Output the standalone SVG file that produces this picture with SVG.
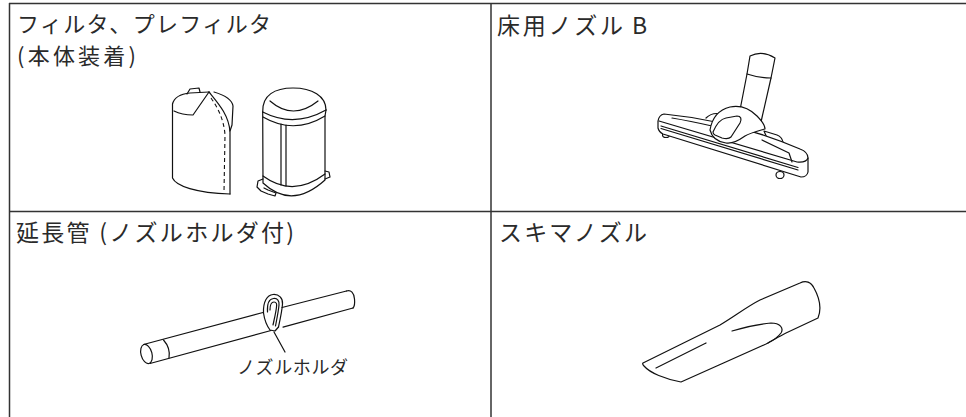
<svg xmlns="http://www.w3.org/2000/svg" width="966" height="417" viewBox="0 0 966 417">
<style>
.grid{stroke:#333;stroke-width:1.5;fill:none}
.ln{stroke:#111;stroke-width:1.2;fill:none;stroke-linecap:round;stroke-linejoin:round}
.fw{stroke:#111;stroke-width:1.2;fill:#fff;stroke-linejoin:round}
.dash{stroke:#111;stroke-width:1.1;fill:none;stroke-dasharray:4 3}
.t{font-family:"Noto Sans CJK JP","Noto Sans",sans-serif;font-size:23px;fill:#2a2a2a}
.t2{font-family:"Noto Sans CJK JP","Noto Sans",sans-serif;font-size:22px;fill:#2a2a2a}
.s{font-family:"Noto Sans CJK JP","Noto Sans",sans-serif;font-size:18px;fill:#2a2a2a}
</style>
<rect width="966" height="417" fill="#fff"/>
<g id="grid">
<line class="grid" x1="9" y1="3.5" x2="966" y2="3.5"/>
<line class="grid" x1="9.5" y1="3" x2="9.5" y2="417"/>
<line class="grid" x1="491" y1="3" x2="491" y2="417"/>
<line class="grid" x1="9" y1="211.5" x2="966" y2="211.5"/>
</g>
<g id="cell-filter">
<text class="t2" x="17" y="31.8" textLength="254" lengthAdjust="spacing">フィルタ、プレフィルタ</text>
<text class="t2" x="17" y="64.3" textLength="119" lengthAdjust="spacing">(本体装着)</text>
<g id="prefilter">
<path class="ln" d="M172.5,104 L172.5,178 C176,186 196,193 230,194"/>
<path class="ln" d="M172.5,104 C174,98 180,94 190,93 L209,92"/>
<path class="ln" d="M187,94 L190,89 L199,88 L200,92"/>
<path class="ln" d="M174,111 C180,114 186,115 193,115 L209,92"/>
<path class="ln" d="M209,92 C218,103 229,115 230,132 L230,194"/>
<path class="ln" d="M214,92 C224,95 232,99 233,106 L232,125 L230,131"/>
<path class="dash" d="M211,98 C218,108 224,120 225,135 L224,192"/>
</g>
<g id="filter">
<path class="ln" d="M262.7,112 C262,95 275,88 293,88 C312,88 326,96 326,110"/>
<path class="ln" d="M270,101 Q293,121 318,101"/>
<path class="ln" d="M262.7,112 Q294,128 326,110"/>
<path class="ln" d="M263,117 Q294,135 325,116"/>
<path class="ln" d="M262.7,112 L263,183 Q292,210 325,180 L325,116 L326,110"/>
<path class="ln" d="M263,176 Q293,198 325,174"/>
<path class="ln" d="M281,124 L281,185 M286,125 L286,186"/>
<path class="ln" d="M263,179 L258,181 L257,187 L261,191 L268,194 L275,196 L276,193 L268,190 L264,188"/>
<path class="ln" d="M325,171 L329,172 L330,177 L325,179"/>
</g>
</g>
<g id="cell-floor-nozzle">
<text class="t" x="497" y="33.5"><tspan textLength="126" lengthAdjust="spacing">床用ノズル</tspan><tspan x="632">B</tspan></text>
<ellipse class="fw" cx="666" cy="135" rx="3.5" ry="2.5"/>
<ellipse class="fw" cx="780" cy="175" rx="4" ry="3.5"/>
<path class="ln" d="M706,118 Q712,112 721,114"/>
<path class="fw" d="M764,131 L777,135 Q782,137 783,142 L781,147 L770,145 Z"/>
<path class="fw" d="M664,114 Q735,121 800,149 Q808,152 808,158 L808,172 Q807,177 801,177 L663,134 Q659,132 658,128 L658,121 Q659,115 664,114 Z"/>
<path class="ln" d="M659,121 L797,162 Q806,163 808,158"/>
<path class="ln" d="M661,126 L798,167.5 M661,128.5 L798,170"/>
<path class="ln" d="M672,118 Q690,121 712,126"/>
<path class="ln" d="M762,140 L789,153 L792,162"/>
<path class="fw" d="M750,56 Q762,50 775,58 L771,78 L761,122 L740,110 L747,74 Z"/>
<path class="ln" d="M747,74 Q759,78 771,78"/>
<path class="fw" d="M710,130 C712,118 718,110 730,107 C740,105 750,109 757,116 C762,121 765,126 765,129 C758,131 750,133 745,136 C738,141 732,144 726,143 C718,142 712,138 710,130 Z"/>
<path class="ln" d="M713,132 C716,125 720,119 726,118 L737,116 C741,116 742,119 740,123 L731,137 C729,139 726,139 722,138 L715,135 C713,134 713,133 713,132 Z"/>
</g>
<g id="cell-extension-pipe">
<text class="t" x="16" y="240.5" textLength="278" lengthAdjust="spacing">延長管 (ノズルホルダ付)</text>
<ellipse class="ln" cx="146.5" cy="354" rx="5.5" ry="9.8" transform="rotate(-15 146.5 354)"/>
<path class="ln" d="M163.5,340 C168,345 170,352 169,358"/>
<path class="ln" d="M143.5,344.5 L263,312.5 M282,307.5 L346.5,291"/>
<path class="ln" d="M150,363.5 L271,330.5 M283,327.2 L353,308"/>
<path class="ln" d="M346.5,291 C351,289.5 354,293 354.5,299 C355,304 354,307 353,308"/>
<path class="ln" d="M263.5,313 C263,302 267,295 273,294.5 C279,294 283,298 282.5,304 C282,311 280,320 278.5,327"/>
<path class="ln" d="M267.5,312 C267,304 269,299 273.5,298.5 C277.5,298 279.5,301 279,305 C278.5,311 277,318 275.5,326"/>
<path class="ln" d="M270,310 C270,305 271.5,302 274,302 C276.5,302 277,304 276.5,307 C276,312 274.5,318 273,325"/>
<path class="ln" d="M263.5,313 C264.5,320 267,326 270,330 L275,331 L278.5,327"/>
<path class="ln" d="M274,332 L285,352"/>
<text class="s" x="237" y="374" textLength="111" lengthAdjust="spacing">ノズルホルダ</text>
</g>
<g id="cell-crevice-nozzle">
<text class="t" x="499" y="240.5" textLength="148" lengthAdjust="spacing">スキマノズル</text>
<path class="ln" d="M643,363 L720,325 C735,316 748,306 760,300 L800,283 C806,280 811,282 814,288 C819,297 822,308 818,318 L786,333 C778,337 772,341 766,344 L681,382 C665,379 650,373 644,366 Q642,364 643,363 Z"/>
<path class="ln" d="M656,368 L706,343"/>
<path class="ln" d="M732,331 C745,327 760,324 771,323 C780,323 784,328 781,333 C778,337 774,340 768,343"/>
</g>
</svg>
